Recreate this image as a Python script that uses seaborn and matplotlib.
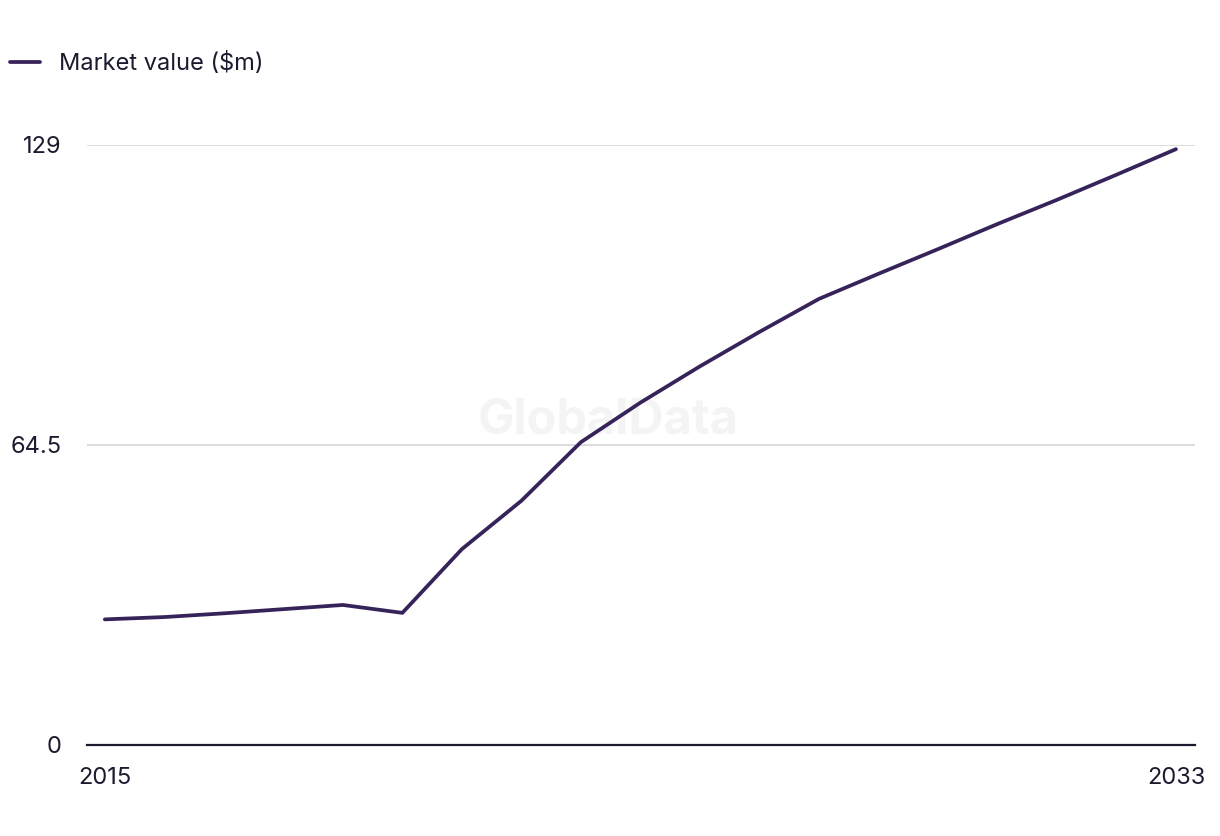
import pandas as pd
import matplotlib
matplotlib.use('Agg')
import matplotlib.pyplot as plt
import seaborn as sns

years = list(range(2015, 2034))
market_value = [27.0, 27.5, 28.3, 29.2, 30.1, 28.4, 42.1, 52.5, 65.1, 73.6,
                81.4, 88.8, 95.9, 101.3, 106.6, 112.0, 117.2, 122.6, 128.1]
y_ticks = [0, 64.5, 129]
y_tick_labels = ['0', '64.5', '129']
x_ticks = [2015, 2033]

df = pd.DataFrame({'year': years, 'value': market_value})

sns.set_style('white')
plt.rcParams['font.family'] = ['Inter', 'DejaVu Sans']

text_col = '#1b1b2f'
line_col = '#36235a'

fig = plt.figure(figsize=(12.2, 8.36), dpi=100)
ax = fig.add_axes([0.0713, 0.1089, 0.9082, 0.7177])

sns.lineplot(data=df, x='year', y='value', ax=ax, color=line_col,
             linewidth=2.7, label='Market value ($m)', legend=False)
ax.lines[0].set_clip_on(False)

ax.set_xlim(2014.7, 2033.32)
ax.set_ylim(0, 129)
ax.set_yticks(y_ticks)
ax.set_yticklabels(y_tick_labels)
ax.set_xticks(x_ticks)
ax.set_xlabel('')
ax.set_ylabel('')
ax.grid(axis='y', color='#d9d9d9', linewidth=1.3)
ax.set_axisbelow(True)
for s in ['top', 'right', 'left']:
    ax.spines[s].set_visible(False)
ax.spines['bottom'].set_color(text_col)
ax.spines['bottom'].set_linewidth(1.6)
ax.tick_params(axis='both', length=0, labelsize=17, colors=text_col)
ax.tick_params(axis='y', pad=18)
ax.tick_params(axis='x', pad=16)

# watermark
ax.text(0.47, 0.54, 'GlobalData', transform=ax.transAxes, ha='center', va='center',
        fontsize=35, fontweight='bold', color='#f4f4f4', zorder=0)

fig.legend(handles=ax.lines[:1], labels=['Market value ($m)'], loc='upper left',
           bbox_to_anchor=(-0.005, 0.957), frameon=False, fontsize=17,
           handlelength=1.27, handletextpad=0.8, labelcolor=text_col,
           borderaxespad=0.3)

fig.savefig('out.png', dpi=100, facecolor='white')
